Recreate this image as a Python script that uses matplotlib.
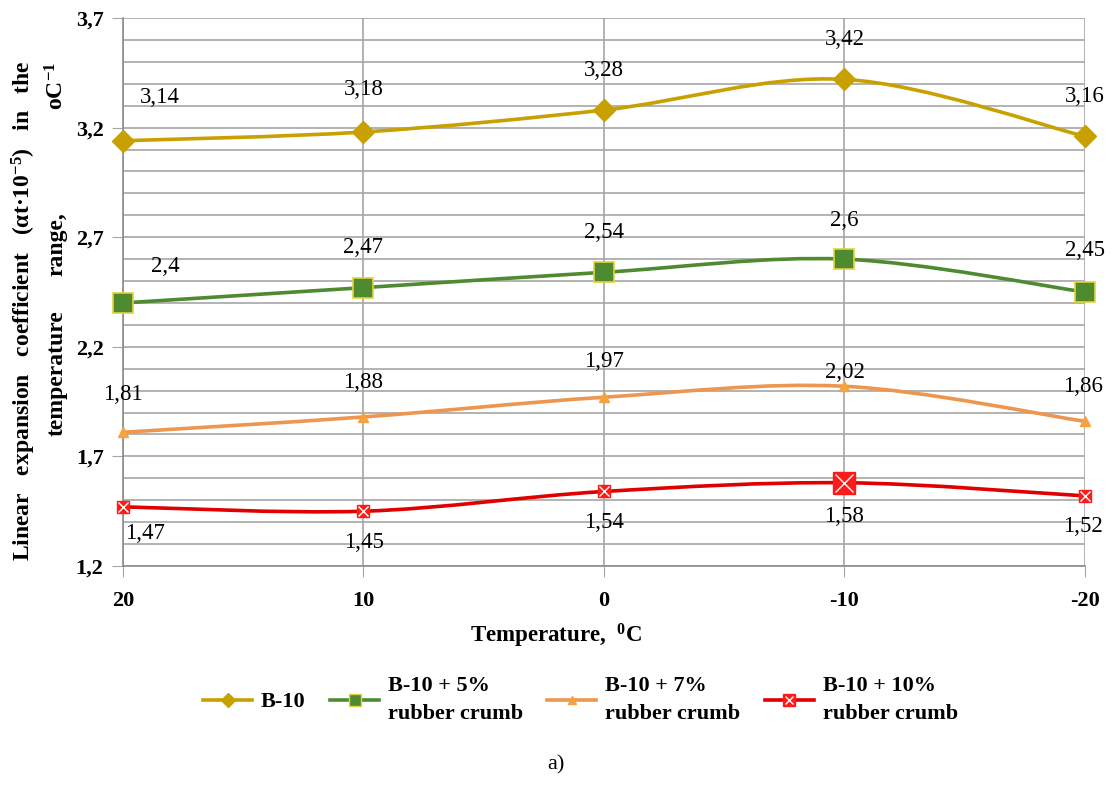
import numpy as np
import matplotlib
matplotlib.use("Agg")
import matplotlib.pyplot as plt
from matplotlib.path import Path
from matplotlib.patches import PathPatch
from matplotlib.lines import Line2D
from matplotlib.ticker import FixedLocator, MultipleLocator

plt.rcParams['font.family'] = ['Liberation Serif', 'DejaVu Serif']
plt.rcParams['mathtext.fontset'] = 'custom'
plt.rcParams['mathtext.rm'] = 'Liberation Serif'
plt.rcParams['mathtext.bf'] = 'Liberation Serif:bold'
plt.rcParams['mathtext.default'] = 'regular'

temps = ["20", "10", "0", "-10", "-20"]
b10 = [3.14, 3.18, 3.28, 3.42, 3.16]
b10_5 = [2.40, 2.47, 2.54, 2.60, 2.45]
b10_7 = [1.81, 1.88, 1.97, 2.02, 1.86]
b10_10 = [1.47, 1.45, 1.54, 1.58, 1.52]
yticks = [1.2, 1.7, 2.2, 2.7, 3.2, 3.7]

c_yel = '#C8A000'
c_grn = '#4E8A30'
c_org = '#EC9650'
c_red = '#E00000'
grid_c = '#A6A6A6'


def smooth_path(xs, ys):
    # bezier smoothing through every point (spreadsheet style)
    pts = np.column_stack([xs, ys]).astype(float)
    n = len(pts)
    verts = [pts[0]]
    codes = [Path.MOVETO]
    for i in range(n - 1):
        p0 = pts[i - 1] if i > 0 else pts[i]
        p1 = pts[i]
        p2 = pts[i + 1]
        p3 = pts[i + 2] if i + 2 < n else pts[i + 1]
        verts += [p1 + (p2 - p0) / 6, p2 - (p3 - p1) / 6, p2]
        codes += [Path.CURVE4] * 3
    return Path(verts, codes)


fig = plt.figure(figsize=(11.12, 7.89), dpi=100)
ax = fig.add_axes([0.1106, 0.2826, 0.8651, 0.6946])

x = np.arange(len(temps))

ax.set_xlim(0, 4)
ax.set_ylim(1.2, 3.7)
ax.yaxis.set_major_locator(FixedLocator(yticks))
ax.yaxis.set_minor_locator(MultipleLocator(0.1))
ax.set_yticklabels([f"{v:.1f}".replace('.', ',') for v in yticks],
                   fontsize=16, fontweight='bold')
ax.set_xticks(x)
ax.set_xticklabels(temps, fontsize=16, fontweight='bold')
ax.tick_params(axis='y', which='major', length=8, color=grid_c, pad=6)
ax.tick_params(axis='y', which='minor', length=0)
ax.tick_params(axis='x', length=8, color=grid_c, pad=10)
ax.grid(True, which='both', axis='y', color=grid_c, lw=1.2)
ax.grid(True, which='major', axis='x', color=grid_c, lw=1.2)
ax.set_axisbelow(True)
for s in ['top', 'right']:
    ax.spines[s].set_visible(False)
for s in ['left', 'bottom']:
    ax.spines[s].set_color('#8C8C8C')
    ax.spines[s].set_linewidth(1.2)

series = [
    (b10, c_yel),
    (b10_5, c_grn),
    (b10_7, c_org),
    (b10_10, c_red),
]
for vals, col in series:
    ax.add_patch(PathPatch(smooth_path(x, vals), fill=False, edgecolor=col,
                           lw=2.6, zorder=3, transform=ax.transData,
                           clip_on=False))

ax.plot(x, b10, ls='none', marker='D', ms=11, mfc=c_yel, mec=c_yel, zorder=4,
        clip_on=False)
ax.plot(x, b10_5, ls='none', marker='s', ms=14, mfc=c_grn, mec='#E3D33A',
        mew=1.2, zorder=4, clip_on=False)
ax.plot(x, b10_7, ls='none', marker='^', ms=7, mfc='#F5A340', mec='#F5A340',
        zorder=4, clip_on=False)
red_size = [8.5, 8.5, 8.5, 16, 8.5]
for xi, yi, ms in zip(x, b10_10, red_size):
    ax.plot(xi, yi, ls='none', marker='s', ms=ms, mfc='#FF1A1A', mec='#FF1A1A',
            zorder=4, clip_on=False)
    ax.plot(xi, yi, ls='none', marker='x', ms=ms * 0.8, mec='white', mew=1,
            zorder=5, clip_on=False)

# value labels, offsets in pixels from each point
offsets = [
    [(37, 43), (0, 42), (0, 40), (0, 40), (0, 40)],
    [(42, 36), (0, 40), (0, 40), (0, 39), (0, 42)],
    [(0, 38), (0, 34), (0, 36), (0, 14), (-2, 35)],
    [(22, -27), (0, -31), (0, -31), (0, -34), (-2, -31)],
]
for (vals, _), offs in zip(series, offsets):
    for xi, v, off in zip(x, vals, offs):
        ax.annotate(f"{v:g}".replace('.', ','), (xi, v), xytext=off,
                    textcoords='offset pixels', ha='center', va='center',
                    fontsize=16.5, zorder=6)

# rotated y title, justified across the axis height
fig.text(24 / 1112, 1 - 311 / 789,
         r"Linear   expansion   coefficient   (αt·10$^{\mathbf{-5}}$)   in   the",
         rotation=90, ha='center', va='center', fontsize=17, fontweight='bold')
for word, yc in [("temperature", 373), ("range,", 244),
                 (r"oC$^{\mathbf{-1}}$", 86)]:
    fig.text(57 / 1112, 1 - yc / 789, word, rotation=90, ha='center',
             va='center', fontsize=17, fontweight='bold')

fig.text(0.5, 1 - 636 / 789, r"Temperature,  $^{\mathbf{0}}$C",
         ha='center', va='center', fontsize=16.5, fontweight='bold')
fig.text(0.5, 1 - 765 / 789, "a)", ha='center', va='center', fontsize=16)

handles = [
    Line2D([], [], color=c_yel, lw=2.6, marker='D', ms=7, mfc=c_yel, mec=c_yel),
    Line2D([], [], color=c_grn, lw=2.6, marker='s', ms=8, mfc=c_grn,
           mec='#E3D33A'),
    Line2D([], [], color=c_org, lw=2.6, marker='^', ms=6, mfc='#F5A340',
           mec='#F5A340'),
    (Line2D([], [], color=c_red, lw=2.6, marker='s', ms=8, mfc='#FF1A1A',
            mec='#FF1A1A'),
     Line2D([], [], ls='none', marker='x', ms=6, mec='white', mew=1)),
]
labels = ["B-10", "B-10 + 5%\nrubber crumb", "B-10 + 7%\nrubber crumb",
          "B-10 + 10%\nrubber crumb"]
leg = fig.legend(handles, labels, ncol=4, loc='center',
                 bbox_to_anchor=(0.522, 0.113), frameon=False,
                 prop={'size': 16, 'weight': 'bold'},
                 handlelength=2.2, handletextpad=0.4, columnspacing=1.1)
for t in leg.get_texts():
    t.set_linespacing(1.5)

fig.savefig("out.png", dpi=100, facecolor='white')
